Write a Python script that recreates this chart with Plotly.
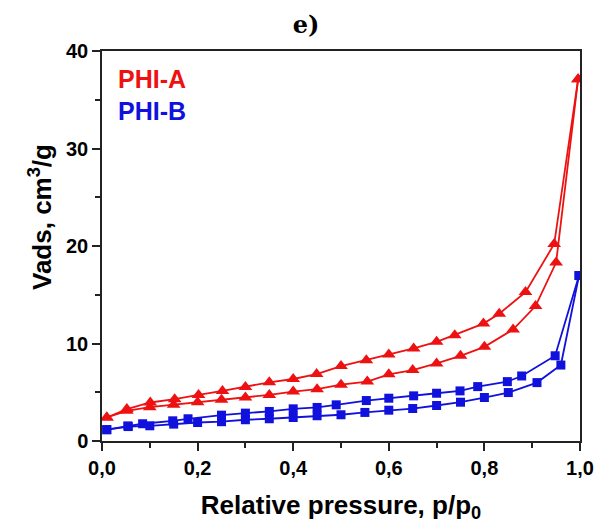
import plotly.graph_objects as go

# PHI-A (red, triangles)
a_ads_x = [0.01, 0.052, 0.10, 0.15, 0.20, 0.25, 0.30, 0.35, 0.40, 0.45, 0.50, 0.555, 0.60, 0.65, 0.70, 0.75, 0.80, 0.86, 0.907, 0.95, 0.996]
a_ads_y = [2.41, 3.10, 3.47, 3.71, 3.98, 4.22, 4.46, 4.73, 5.07, 5.31, 5.78, 6.09, 6.84, 7.28, 7.96, 8.74, 9.66, 11.43, 13.84, 18.3, 37.1]
a_des_x = [0.996, 0.946, 0.886, 0.831, 0.798, 0.738, 0.70, 0.652, 0.60, 0.553, 0.50, 0.449, 0.40, 0.35, 0.30, 0.252, 0.202, 0.152, 0.101, 0.052, 0.01]
a_des_y = [37.1, 20.2, 15.27, 13.06, 12.04, 10.85, 10.17, 9.49, 8.88, 8.27, 7.69, 6.87, 6.36, 6.02, 5.55, 5.14, 4.73, 4.29, 3.95, 3.27, 2.41]

# PHI-B (blue, squares)
b_ads_x = [0.01, 0.055, 0.10, 0.15, 0.20, 0.25, 0.30, 0.35, 0.40, 0.45, 0.50, 0.55, 0.60, 0.65, 0.70, 0.75, 0.80, 0.85, 0.91, 0.96, 0.998]
b_ads_y = [1.16, 1.48, 1.56, 1.73, 1.90, 1.98, 2.18, 2.28, 2.41, 2.59, 2.69, 2.93, 3.16, 3.33, 3.64, 3.98, 4.46, 4.97, 5.99, 7.79, 16.97]
b_des_x = [0.998, 0.948, 0.878, 0.848, 0.786, 0.749, 0.70, 0.652, 0.60, 0.553, 0.49, 0.45, 0.40, 0.35, 0.30, 0.25, 0.18, 0.148, 0.085, 0.054, 0.01]
b_des_y = [16.97, 8.74, 6.67, 6.09, 5.58, 5.14, 4.90, 4.63, 4.39, 4.15, 3.71, 3.44, 3.30, 3.03, 2.86, 2.65, 2.28, 2.07, 1.77, 1.55, 1.16]

RED = "#ee1111"
BLUE = "#1111dd"

fig = go.Figure()
for xs, ys in [(a_ads_x, a_ads_y), (a_des_x, a_des_y)]:
    fig.add_trace(go.Scatter(x=xs, y=ys, mode="lines+markers",
                             line=dict(color=RED, width=1.8),
                             marker=dict(symbol="triangle-up", size=12, color=RED),
                             showlegend=False))
for xs, ys in [(b_ads_x, b_ads_y), (b_des_x, b_des_y)]:
    fig.add_trace(go.Scatter(x=xs, y=ys, mode="lines+markers",
                             line=dict(color=BLUE, width=1.8),
                             marker=dict(symbol="square", size=9, color=BLUE),
                             showlegend=False))

SANS = "Liberation Sans"
AX = "#222"
fig.update_layout(
    width=606, height=527,
    margin=dict(l=102, r=18, t=51, b=84),
    plot_bgcolor="white", paper_bgcolor="white",
    separators=", ",
    title=dict(text="<b>e)</b>", x=0.505, xanchor="center", y=0.953, yanchor="middle",
               font=dict(family="DejaVu Serif", size=24, color="black")),
    xaxis=dict(range=[0, 1], tickmode="linear", tick0=0, dtick=0.2, tickformat=".1f",
               showline=True, linecolor=AX, linewidth=1.5, mirror=True,
               ticks="outside", ticklen=8, tickwidth=1.5, tickcolor=AX,
               minor=dict(dtick=0.1, ticks="outside", ticklen=5, tickwidth=1.5, tickcolor=AX),
               showgrid=False, zeroline=False,
               tickfont=dict(family=SANS, size=20, color="black", weight=700),
               title=dict(text="<b>Relative pressure, p/p<sub>0</sub></b>", standoff=18,
                          font=dict(family=SANS, size=26, color="black"))),
    yaxis=dict(range=[0, 40], tickmode="linear", tick0=0, dtick=10,
               showline=True, linecolor=AX, linewidth=1.5, mirror=True,
               ticks="outside", ticklen=8, tickwidth=1.5, tickcolor=AX,
               minor=dict(dtick=5, ticks="outside", ticklen=5, tickwidth=1.5, tickcolor=AX),
               showgrid=False, zeroline=False,
               tickfont=dict(family=SANS, size=20, color="black", weight=700)),
)
fig.add_annotation(text="<b>Vads, cm<sup>3</sup>/g</b>", xref="paper", yref="paper",
                   x=-0.13, y=0.574, xanchor="center", yanchor="middle", textangle=-90,
                   showarrow=False, font=dict(family=SANS, size=26, color="black"))
fig.add_annotation(text="<b>PHI-A</b>", xref="paper", yref="paper", x=0.03, y=0.929,
                   xanchor="left", yanchor="middle", showarrow=False,
                   font=dict(family=SANS, size=25, color=RED))
fig.add_annotation(text="<b>PHI-B</b>", xref="paper", yref="paper", x=0.03, y=0.845,
                   xanchor="left", yanchor="middle", showarrow=False,
                   font=dict(family=SANS, size=25, color=BLUE))

fig.write_html("out.html")
